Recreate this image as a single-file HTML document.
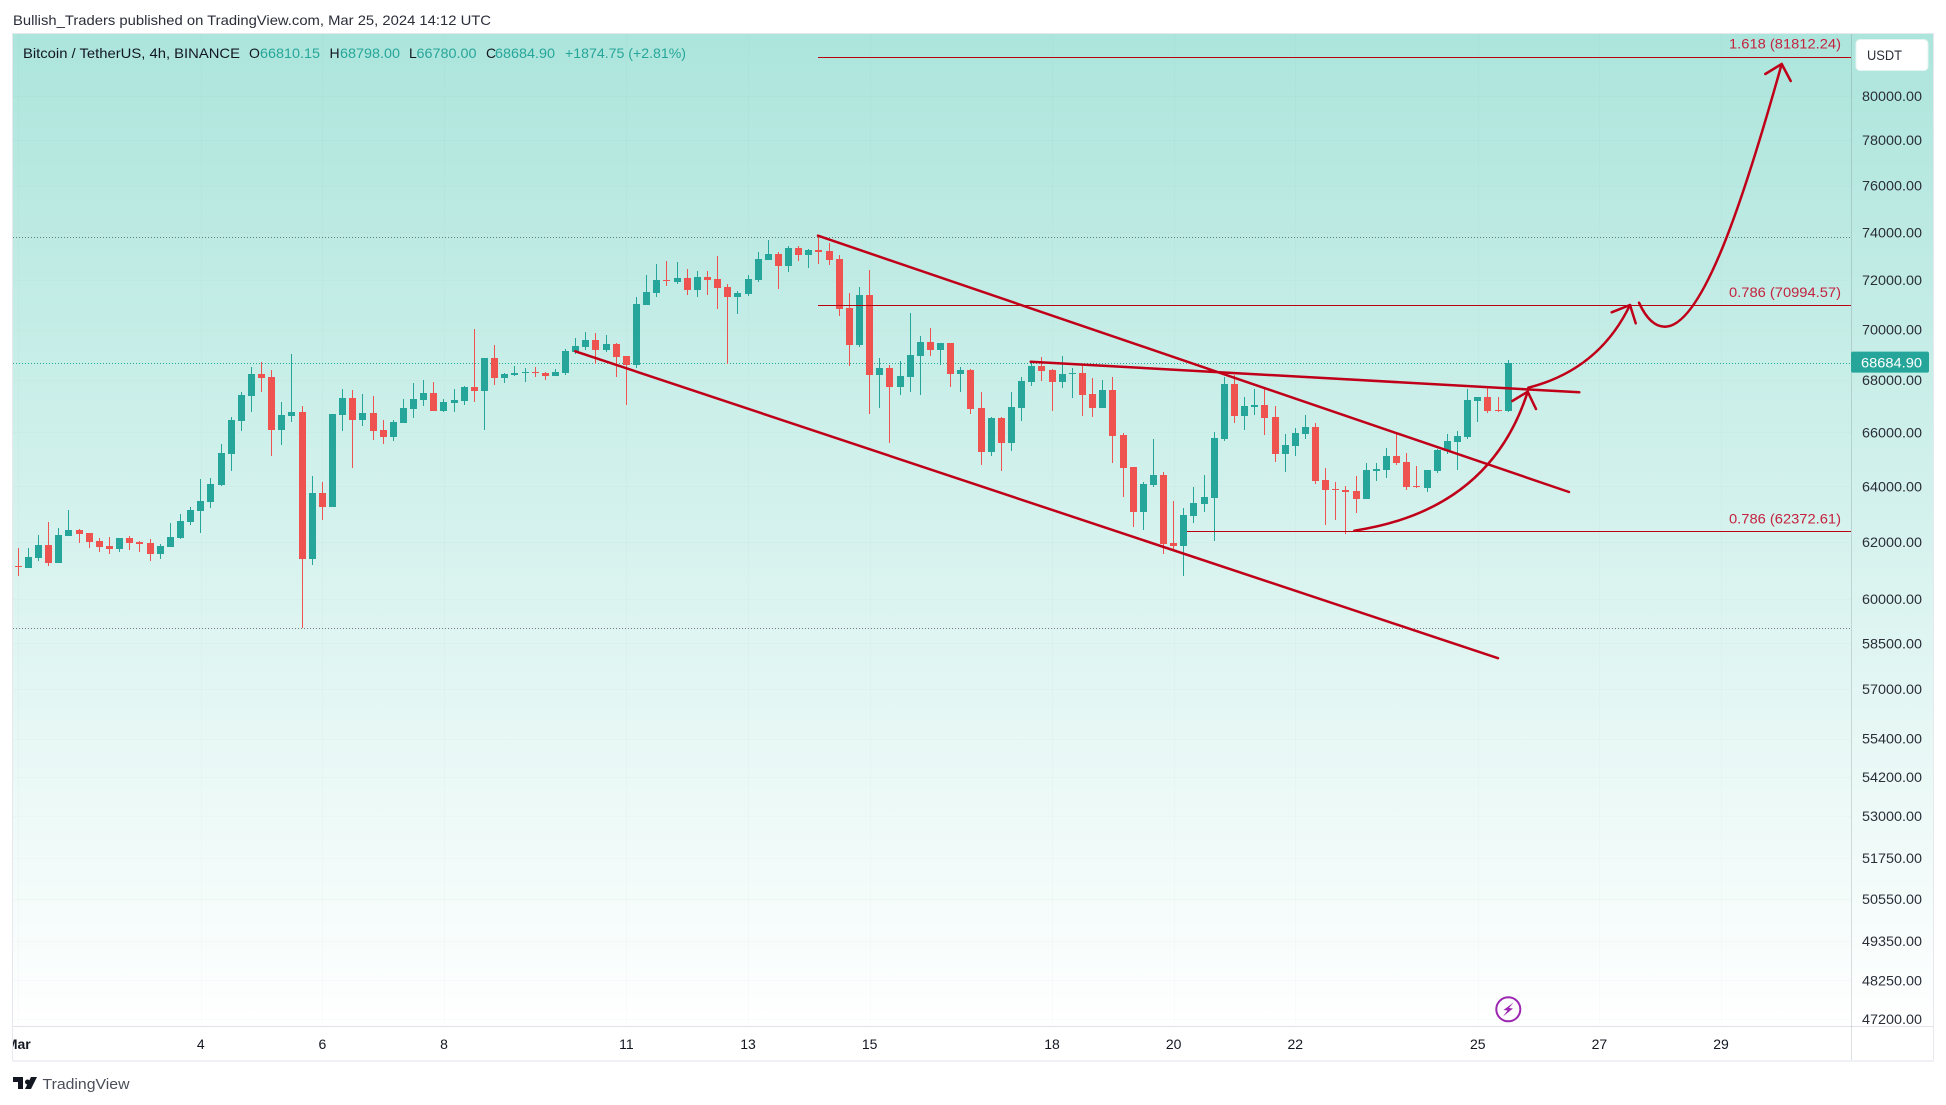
<!DOCTYPE html>
<html lang="en">
<head>
<meta charset="utf-8">
<title>Bitcoin / TetherUS 4h chart</title>
<style>
html,body{margin:0;padding:0;background:#fff;width:1946px;height:1105px;overflow:hidden}
svg{display:block;font-family:"Liberation Sans",sans-serif}
</style>
</head>
<body>
<svg id="chart" xmlns="http://www.w3.org/2000/svg" width="1946" height="1105" viewBox="0 0 1946 1105">
  <defs>
    <linearGradient id="bg" x1="0" y1="34" x2="0" y2="1026" gradientUnits="userSpaceOnUse">
      <stop offset="0" stop-color="#ace5dc"/>
      <stop offset="1" stop-color="#ffffff"/>
    </linearGradient>
    <clipPath id="plot"><rect x="13" y="34" width="1838" height="992"/></clipPath>
    <clipPath id="timeclip"><rect x="13" y="1027" width="1838" height="33"/></clipPath>
  </defs>

  <text x="13" y="25" font-size="14" fill="#2a2e39" textLength="478" lengthAdjust="spacingAndGlyphs">Bullish_Traders published on TradingView.com, Mar 25, 2024 14:12 UTC</text>

  <rect x="13" y="34" width="1920" height="992" fill="url(#bg)"/>
  <g id="grid" clip-path="url(#plot)"></g>
  <g id="levels" clip-path="url(#plot)"></g>
  <g id="candles" clip-path="url(#plot)"></g>
  <g id="drawings" clip-path="url(#plot)"></g>

  <rect x="12" y="34" width="1" height="1028" fill="#e6e8ee"/>
  <rect x="12" y="33" width="1922" height="1" fill="#e6e8ee"/>
  <rect x="1933" y="33" width="1" height="1029" fill="#e6e8ee"/>
  <rect x="13" y="1026" width="1920" height="1" fill="#e0e3eb"/>
  <rect x="12" y="1060" width="1922" height="2" fill="#f0f1f6"/>
  <rect x="1851" y="34" width="1" height="1026" fill="#505a64" fill-opacity="0.2"/>

  <g font-size="14">
    <text x="23" y="58" fill="#131722" textLength="217" lengthAdjust="spacingAndGlyphs">Bitcoin / TetherUS, 4h, BINANCE</text>
    <text x="249" y="58" fill="#131722">O</text>
    <text x="260" y="58" fill="#26a69a" textLength="60" lengthAdjust="spacingAndGlyphs">66810.15</text>
    <text x="329.5" y="58" fill="#131722">H</text>
    <text x="340" y="58" fill="#26a69a" textLength="60" lengthAdjust="spacingAndGlyphs">68798.00</text>
    <text x="409" y="58" fill="#131722">L</text>
    <text x="416.5" y="58" fill="#26a69a" textLength="60" lengthAdjust="spacingAndGlyphs">66780.00</text>
    <text x="486" y="58" fill="#131722">C</text>
    <text x="495" y="58" fill="#26a69a" textLength="60" lengthAdjust="spacingAndGlyphs">68684.90</text>
    <text x="565" y="58" fill="#26a69a" textLength="121" lengthAdjust="spacingAndGlyphs">+1874.75 (+2.81%)</text>
  </g>

  <g id="price-axis"></g>
  <g id="time-axis" clip-path="url(#timeclip)"></g>

  <rect x="1856" y="39.5" width="72" height="31" rx="4" fill="#ffffff" stroke="#e6f4f1" stroke-width="1"/>
  <text x="1867" y="60" font-size="14" fill="#2a2e39" textLength="35" lengthAdjust="spacingAndGlyphs">USDT</text>

  <g id="price-tag"></g>

  <g>
    <circle cx="1508.3" cy="1009.3" r="12" fill="none" stroke="#9c27b0" stroke-width="2"/>
    <polygon points="1513.5,1002.5 1503.5,1010 1507.5,1010.5 1503,1016.5 1513,1008.5 1509,1008" fill="#9c27b0"/>
  </g>

  <g>
    <path d="M13 1077h10v12h-5v-7h-5zM31 1077h6l-6 12h-6zM27.5 1079.5a2.5 2.5 0 1 1-0.01 0z" fill="#131722"/>
    <text x="42.5" y="1089" font-size="15" fill="#4a4e59" textLength="87" lengthAdjust="spacingAndGlyphs">TradingView</text>
  </g>
</svg>

<script>
var opens = [61150,61080,61430,61880,61250,62200,62420,62310,62020,61850,61740,62130,61990,61950,61570,61810,62130,62710,63100,63430,
64040,65190,66430,67390,68240,68120,66090,66620,66780,61390,63750,63250,66660,67310,66470,66740,66090,65820,66350,66890,
67230,67500,66810,67120,67200,67730,67580,68870,68080,68200,68280,68310,68280,68160,68280,69110,69300,69580,69180,69420,
68950,68590,70990,71470,72000,71920,72080,71590,72130,72040,71720,71310,71430,72000,72840,73090,72590,73340,73050,73250,
73210,72880,70860,69380,71390,68200,68470,67730,68120,68950,69500,69180,69460,68240,68380,66930,65270,66540,65600,66930,
67920,68550,68380,67920,68240,68280,67460,66930,67620,65900,64710,63070,64040,64410,61950,61850,62920,63360,63570,65750,
67850,66620,66970,67040,66580,65190,65490,65930,66200,64240,63900,63870,63820,63540,64560,64580,65120,64900,64000,63930,
64560,65300,65640,65820,67200,67350,66850,66810.15];
var highs = [61770,61770,62240,62710,62490,63140,62460,62310,62130,62170,62130,62200,62020,62100,61920,62670,63000,63250,64260,64300,
65560,66580,67540,68510,68710,68390,67160,69030,67000,64380,64150,66700,67660,67620,67460,67390,66470,66470,67270,67890,
68000,67920,67270,67660,67770,70010,68870,69380,68280,68550,68470,68510,68310,68430,69220,69660,69900,69860,69780,69460,
68950,71310,72210,72670,72790,72750,72460,72380,72380,73000,71840,71550,72210,73170,73670,73170,73420,73420,73300,73780,
73550,73050,71470,71720,72420,68870,68590,68750,70660,69740,70050,69460,69460,68510,68430,67540,66580,66580,67540,68120,
68750,68910,68430,68950,68470,68630,68080,68000,68120,65970,64710,64150,65750,64520,63460,63210,63970,64410,66010,68120,
68190,67350,67660,67690,67000,65930,66160,66660,66350,64670,64150,64000,64380,64860,64860,65410,65970,65230,64750,64580,
65380,65930,66050,67660,67350,67730,67350,68798];
var lows = [60800,61080,61320,61150,61250,62200,61950,61780,61640,61570,61640,61710,61640,61320,61390,61810,62100,62600,62310,63210,
64000,64560,66050,66780,67540,65120,65530,66390,59020,61190,62780,63250,66050,64670,66240,65710,65560,65670,66350,66550,
67000,66810,66780,66780,67040,67160,66090,67810,67890,68160,67920,68120,68000,68160,68200,69030,69180,68630,69110,68120,
67040,68470,70990,71310,71760,71840,71390,71310,71390,70820,68630,70620,71350,71920,72840,71630,72340,72800,72500,72670,
72630,70540,68550,69300,66700,66930,65600,67430,67540,67430,68950,68590,67730,67540,66700,64780,65120,64560,65300,66430,
67770,67960,66810,67690,67310,66620,66580,66930,64860,63610,62530,62420,63970,61570,61710,60800,62670,63070,62020,65670,
66350,66090,66660,65900,64900,64520,65120,65750,64080,62600,62780,62280,63030,63540,64190,64300,64780,63870,63930,63790,
64490,65190,64580,65750,66390,66740,66780,66780];
var closes = [61120,61460,61880,61250,62240,62420,62280,61990,61810,61740,62130,61950,61920,61570,61850,62170,62740,63140,63460,64080,
65230,66470,67430,68240,68080,66090,66660,66780,61390,63750,63250,66700,67310,66470,66740,66050,65820,66390,66930,67270,
67500,66810,67160,67230,67730,67580,68870,68080,68240,68280,68310,68280,68160,68310,69140,69340,69580,69180,69420,68910,
68590,71030,71510,72000,71960,72080,71590,72130,72000,71680,71310,71470,72040,72880,73090,72590,73340,73050,73250,73170,
72840,70820,69380,71390,68200,68470,67730,68160,68990,69500,69180,69460,68240,68380,66890,65270,66540,65600,66970,67960,
68550,68350,67920,68240,68280,67430,66930,67620,65860,64670,63070,64080,64410,61920,61850,62960,63390,63610,65790,67850,
66620,67000,67040,66550,65190,65530,65970,66200,64190,63870,63870,63790,63540,64580,64620,65120,64860,63970,63970,64580,
65340,65670,65860,67230,67350,66810,66810,68684.90];

var priceTicks = [80000,78000,76000,74000,72000,70000,68000,66000,64000,62000,60000,58500,57000,55400,54200,53000,51750,50550,49350,48250,47200];
var dayTicks = [1,4,6,8,11,13,15,18,20,22,25,27,29];
var dayLabels = ['Mar','4','6','8','11','13','15','18','20','22','25','27','29'];

var fibPrices = [81812.24,70994.57,62372.61];
var fibLabels = ['1.618 (81812.24)','0.786 (70994.57)','0.786 (62372.61)'];
var fibStartBars = [78.9,78.9,115.3];

var upperChannelBars = [78.9,153.0];
var upperChannelPrices = [73856,63792];
var lowerChannelBars = [54.96,146.0];
var lowerChannelPrices = [69133,58010];
var resistanceBars = [99.89,154.02];
var resistancePrices = [68723,67532];

var curveOneBars = [131.82,145.21,148.93];
var curveOnePrices = [62395,63138,67554];
var curveTwoBars = [148.99,155.95,159.02];
var curveTwoPrices = [67710,68410,70987];
var curveThreeBars = [159.91,161.0,162.47,166.22,170.37,173.99];
var curveThreePrices = [71081,70112,70112,70112,75594,81472];

var arrowOneBars = [147.41,148.93,149.75];
var arrowOnePrices = [67197,67554,66890];
var arrowTwoBars = [157.22,159.02,159.59];
var arrowTwoPrices = [70692,70987,70249];
var arrowThreeBars = [172.37,173.99,174.88];
var arrowThreePrices = [81008,81472,80685];

var NS = 'http://www.w3.org/2000/svg';
var GREEN = '#26a69a', RED = '#ef5350', LINE = '#c00018';
var PLOT_LEFT = 13, PLOT_RIGHT = 1851;

function xScale(bar){ return 18.3 + 10.135 * bar; }
function yScale(price){ return 329.5 + 1749.4 * Math.log(70000 / price); }
function fmt(v){ return Number(v).toFixed(2); }

function make(tag, parent, attrs){
  var el = document.createElementNS(NS, tag);
  for (var k in attrs) el.setAttribute(k, attrs[k]);
  parent.appendChild(el);
  return el;
}

var gridG = document.getElementById('grid');
var levelsG = document.getElementById('levels');
var candlesG = document.getElementById('candles');
var drawingsG = document.getElementById('drawings');
var priceAxisG = document.getElementById('price-axis');
var timeAxisG = document.getElementById('time-axis');
var tagG = document.getElementById('price-tag');

priceTicks.forEach(function(p){
  var y = Math.round(yScale(p));
  var line = make('rect', gridG, {x:PLOT_LEFT, y:y, width:PLOT_RIGHT-PLOT_LEFT, height:1, fill:'#2a2e39', 'fill-opacity':0.018});
  
  
  var label = make('text', priceAxisG, {x:1862, y:yScale(p)+5, 'font-size':14, fill:'#2a2e39', textLength:60, lengthAdjust:'spacingAndGlyphs'});
  label.textContent = fmt(p);
  
  
});

dayTicks.forEach(function(d, idx){
  var x = xScale((d - 1) * 6);
  var line = make('rect', gridG, {x:Math.round(x), y:34, width:1, height:992, fill:'#2a2e39', 'fill-opacity':0.018});
  
  
  var label = make('text', timeAxisG, {x:x, y:1049, 'font-size':14, fill:'#131722', 'text-anchor':'middle', 'font-weight': idx === 0 ? '700' : '400'});
  label.textContent = dayLabels[idx];
  
  
});

var rangeHigh = Math.max.apply(null, highs);
var rangeLow = Math.min.apply(null, lows);
var lastIndex = closes.length - 1;
var lastClose = closes[lastIndex];

function hLevel(price, colour){
  var y = Math.round(yScale(price)) + 0.5;
  var el = make('line', levelsG, {x1:PLOT_LEFT, x2:PLOT_RIGHT, y1:y, y2:y, stroke:colour, 'stroke-width':1, 'stroke-dasharray':'1 2'});
  return el;
}
var highLine = hLevel(rangeHigh, '#5d7a78');


var lowLine = hLevel(rangeLow, '#787b86');


var lastLine = hLevel(lastClose, GREEN);



opens.forEach(function(o, i){
  var h = highs[i], l = lows[i], c = closes[i];
  var colour = c >= o ? GREEN : RED;
  var bx = Math.round(xScale(i) - 3.5);
  var g = make('g', candlesG, {fill:colour});
  
  
  var yh = Math.round(yScale(h)), yl = Math.round(yScale(l));
  var wick = make('rect', g, {x:bx+3, y:yh, width:1, height:Math.max(1, yl-yh), 'shape-rendering':'crispEdges'});
  
  
  var yt = Math.round(yScale(Math.max(o, c))), yb = Math.round(yScale(Math.min(o, c)));
  var body = make('rect', g, {x:bx, y:yt, width:7, height:Math.max(1, yb-yt), 'shape-rendering':'crispEdges'});
  
  
});

fibPrices.forEach(function(p, i){
  var y = Math.round(yScale(p));
  var x0 = xScale(fibStartBars[i]);
  var line = make('rect', drawingsG, {x:x0, y:y, width:PLOT_RIGHT-x0, height:1, fill:'#b8000f', 'shape-rendering':'crispEdges'});
  
  
  var label = make('text', drawingsG, {x:1729, y:yScale(p)-8, 'font-size':14, fill:'#c4223f', textLength:112, lengthAdjust:'spacingAndGlyphs'});
  label.textContent = fibLabels[i];
  
  
});

function pt(bars, prices, i){ return xScale(bars[i]).toFixed(1) + ' ' + yScale(prices[i]).toFixed(1); }
function strokeAttrs(d){ return {d:d, fill:'none', stroke:LINE, 'stroke-width':2.5, 'stroke-linecap':'round', 'stroke-linejoin':'round'}; }

var upper = make('path', drawingsG, strokeAttrs('M' + pt(upperChannelBars, upperChannelPrices, 0) + ' L' + pt(upperChannelBars, upperChannelPrices, 1)));



var lower = make('path', drawingsG, strokeAttrs('M' + pt(lowerChannelBars, lowerChannelPrices, 0) + ' L' + pt(lowerChannelBars, lowerChannelPrices, 1)));



var resist = make('path', drawingsG, strokeAttrs('M' + pt(resistanceBars, resistancePrices, 0) + ' L' + pt(resistanceBars, resistancePrices, 1)));



var c1 = make('path', drawingsG, strokeAttrs('M' + pt(curveOneBars, curveOnePrices, 0) + ' Q' + pt(curveOneBars, curveOnePrices, 1) + ' ' + pt(curveOneBars, curveOnePrices, 2)));



var c2 = make('path', drawingsG, strokeAttrs('M' + pt(curveTwoBars, curveTwoPrices, 0) + ' Q' + pt(curveTwoBars, curveTwoPrices, 1) + ' ' + pt(curveTwoBars, curveTwoPrices, 2)));



var c3 = make('path', drawingsG, strokeAttrs('M' + pt(curveThreeBars, curveThreePrices, 0) + ' Q' + pt(curveThreeBars, curveThreePrices, 1) + ' ' + pt(curveThreeBars, curveThreePrices, 2) + ' C' + pt(curveThreeBars, curveThreePrices, 3) + ' ' + pt(curveThreeBars, curveThreePrices, 4) + ' ' + pt(curveThreeBars, curveThreePrices, 5)));



function arrowPath(bars, prices){ return 'M' + pt(bars, prices, 0) + ' L' + pt(bars, prices, 1) + ' L' + pt(bars, prices, 2); }
var a1 = make('path', drawingsG, strokeAttrs(arrowPath(arrowOneBars, arrowOnePrices)));


var a2 = make('path', drawingsG, strokeAttrs(arrowPath(arrowTwoBars, arrowTwoPrices)));


var a3 = make('path', drawingsG, strokeAttrs(arrowPath(arrowThreeBars, arrowThreePrices)));



var tagY = yScale(lastClose);
var tagRect = make('rect', tagG, {x:1851, y:tagY-11, width:78, height:21, rx:2, fill:GREEN});


var tagText = make('text', tagG, {x:1861, y:tagY+5, 'font-size':14, fill:'#ffffff', textLength:61, lengthAdjust:'spacingAndGlyphs'});
tagText.textContent = fmt(lastClose);


</script>
</body>
</html>
